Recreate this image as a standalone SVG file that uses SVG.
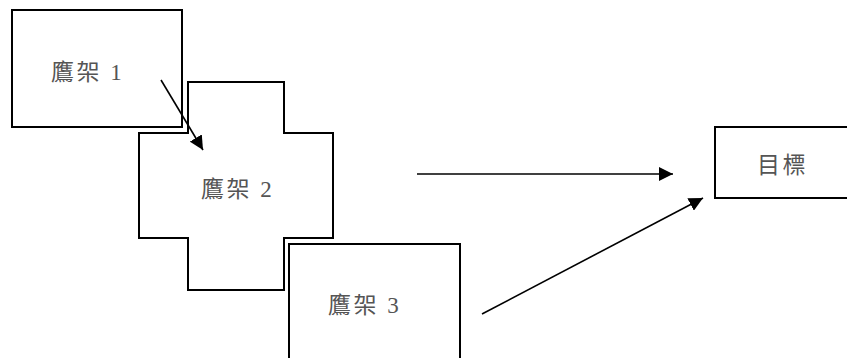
<svg xmlns="http://www.w3.org/2000/svg" width="847" height="358" viewBox="0 0 847 358">
<style>
.n{fill:#fff;stroke:#000;stroke-width:2}
.t{font-family:"Liberation Serif","Noto Sans CJK TC",serif;font-size:23px;fill:#555;letter-spacing:2.5px}
.c{stroke:#000;stroke-width:1.6;fill:none}
</style>
<defs>
<marker id="b" viewBox="0 0 10 10" refX="10" refY="5" markerWidth="14" markerHeight="14" markerUnits="userSpaceOnUse" orient="auto">
<path d="M0,0 L10,5 L0,10 z" fill="#000"/>
</marker>
</defs>
<g id="n1"><rect class="n" x="12" y="10" width="170" height="117"/><text class="t" x="51" y="80">鷹架 1</text></g>
<g id="n2"><path class="n" d="M188,82 H284 V133 H333 V238 H284 V290 H188 V238 H139 V133 H188 Z"/><text class="t" x="201" y="197">鷹架 2</text></g>
<g id="n3"><rect class="n" x="289" y="244" width="171" height="120"/><text class="t" x="328" y="313">鷹架 3</text></g>
<g id="n4"><rect class="n" x="715" y="127" width="135" height="71"/><text class="t" x="757" y="173">目標</text></g>
<g id="edges">
<line class="c" x1="161" y1="80" x2="203" y2="150" marker-end="url(#b)"/>
<line class="c" x1="417" y1="174" x2="673" y2="174" marker-end="url(#b)"/>
<line class="c" x1="482" y1="314" x2="703" y2="198" marker-end="url(#b)"/>
</g>
</svg>
